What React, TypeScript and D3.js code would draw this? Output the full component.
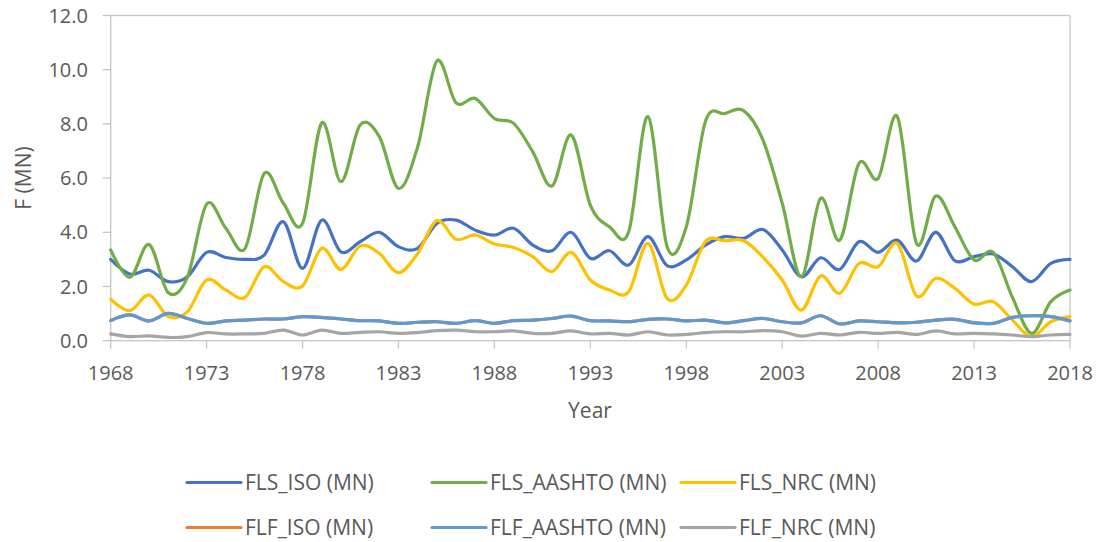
import React, { useEffect, useRef } from "react";
import * as d3 from "d3";

const years: number[] = Array.from({ length: 51 }, (_, i) => 1968 + i);

const flsIso: number[] = [
  3.0, 2.46, 2.6, 2.18, 2.36, 3.26, 3.07, 3.0, 3.16, 4.39, 2.67, 4.45, 3.28, 3.65, 4.0, 3.47, 3.41,
  4.33, 4.45, 4.08, 3.9, 4.15, 3.53, 3.32, 4.0, 3.04, 3.32, 2.79, 3.84, 2.77, 2.98, 3.53, 3.84, 3.78, 4.1,
  3.35, 2.36, 3.06, 2.63, 3.65, 3.26, 3.71, 2.94, 4.0, 2.95, 3.1, 3.2, 2.73, 2.18, 2.85, 3.0,
];
const flsAashto: number[] = [
  3.35, 2.34, 3.55, 1.77, 2.35, 5.04, 4.15, 3.4, 6.17, 5.07, 4.33, 8.04, 5.87, 7.96, 7.53, 5.62, 7.16,
  10.32, 8.78, 8.94, 8.2, 8.02, 6.97, 5.71, 7.59, 5.0, 4.2, 4.02, 8.27, 3.47, 4.2, 8.1, 8.38, 8.48, 7.4,
  5.07, 2.36, 5.25, 3.71, 6.54, 5.99, 8.27, 3.59, 5.34, 4.2, 2.98, 3.26, 1.6, 0.27, 1.44, 1.87,
];
const flsNrc: number[] = [
  1.53, 1.11, 1.69, 0.89, 1.07, 2.24, 1.87, 1.6, 2.73, 2.18, 2.02, 3.41, 2.63, 3.49, 3.22, 2.51, 3.22,
  4.43, 3.74, 3.9, 3.57, 3.44, 3.1, 2.55, 3.26, 2.24, 1.87, 1.81, 3.59, 1.56, 2.05, 3.66, 3.69, 3.69, 3.08,
  2.24, 1.13, 2.39, 1.75, 2.85, 2.73, 3.59, 1.65, 2.3, 1.93, 1.35, 1.44, 0.76, 0.15, 0.7, 0.89,
];
const flfIso: number[] = [
  0.74, 0.95, 0.73, 1.01, 0.82, 0.64, 0.73, 0.76, 0.8, 0.8, 0.89, 0.86, 0.8, 0.74, 0.73, 0.64, 0.68,
  0.7, 0.64, 0.74, 0.64, 0.74, 0.76, 0.82, 0.91, 0.74, 0.73, 0.7, 0.79, 0.8, 0.73, 0.76, 0.66, 0.74, 0.82,
  0.7, 0.66, 0.92, 0.62, 0.73, 0.7, 0.66, 0.68, 0.76, 0.79, 0.66, 0.64, 0.86, 0.92, 0.89, 0.73,
];
const flfAashto: number[] = [
  0.74, 0.95, 0.73, 1.01, 0.82, 0.64, 0.73, 0.76, 0.8, 0.8, 0.89, 0.86, 0.8, 0.74, 0.73, 0.64, 0.68,
  0.7, 0.64, 0.74, 0.64, 0.74, 0.76, 0.82, 0.91, 0.74, 0.73, 0.7, 0.79, 0.8, 0.73, 0.76, 0.66, 0.74, 0.82,
  0.7, 0.66, 0.92, 0.62, 0.73, 0.7, 0.66, 0.68, 0.76, 0.79, 0.66, 0.64, 0.86, 0.92, 0.89, 0.73,
];
const flfNrc: number[] = [
  0.25, 0.15, 0.18, 0.12, 0.15, 0.3, 0.25, 0.25, 0.27, 0.39, 0.21, 0.39, 0.27, 0.31, 0.33, 0.27, 0.3,
  0.37, 0.39, 0.33, 0.33, 0.36, 0.27, 0.27, 0.36, 0.25, 0.27, 0.21, 0.33, 0.21, 0.23, 0.3, 0.33, 0.33, 0.37,
  0.33, 0.17, 0.27, 0.21, 0.31, 0.27, 0.31, 0.23, 0.36, 0.25, 0.27, 0.25, 0.21, 0.15, 0.21, 0.23,
];

const seriesNames: string[] = [
  "FLS_ISO (MN)", "FLS_AASHTO (MN)", "FLS_NRC (MN)",
  "FLF_ISO (MN)", "FLF_AASHTO (MN)", "FLF_NRC (MN)",
];
const seriesColors: string[] = ["#4472C4", "#70AD47", "#FFC000", "#ED7D31", "#5B9BD5", "#A5A5A5"];
const seriesValues: number[][] = [flsIso, flsAashto, flsNrc, flfIso, flfAashto, flfNrc];

const xTicks: number[] = [1968, 1973, 1978, 1983, 1988, 1993, 1998, 2003, 2008, 2013, 2018];
const yTicks: number[] = [0, 2, 4, 6, 8, 10, 12];

const W = 1099;
const H = 542;
const FONT = "'Open Sans', 'Segoe UI', sans-serif";
const TXT = "#595959";
const AXIS = "#C6C6C6";

export default function App() {
  const ref = useRef<SVGSVGElement | null>(null);

  useEffect(() => {
    const svg = d3.select(ref.current);
    svg.selectAll("*").remove();

    const left = 110.7, right = 1070, top = 15.5, bottom = 340.7;
    const x = d3.scaleLinear().domain([1968, 2018]).range([left, right]);
    const y = d3.scaleLinear().domain([0, 12]).range([bottom, top]);

    svg.append("rect")
      .attr("x", left).attr("y", top)
      .attr("width", right - left).attr("height", bottom - top)
      .attr("fill", "none").attr("stroke", AXIS).attr("stroke-width", 1.3);

    const gy = svg.append("g");
    yTicks.forEach((t) => {
      gy.append("line")
        .attr("x1", left - 8).attr("x2", left)
        .attr("y1", y(t)).attr("y2", y(t))
        .attr("stroke", AXIS).attr("stroke-width", 1.3);
      gy.append("text")
        .attr("x", 88).attr("y", y(t))
        .attr("dy", "0.35em")
        .attr("text-anchor", "end")
        .attr("font-family", FONT).attr("font-size", 20)
        .attr("fill", TXT)
        .text(d3.format(".1f")(t));
    });

    const gx = svg.append("g");
    xTicks.forEach((t) => {
      gx.append("line")
        .attr("x1", x(t)).attr("x2", x(t))
        .attr("y1", bottom).attr("y2", bottom + 8)
        .attr("stroke", AXIS).attr("stroke-width", 1.3);
      gx.append("text")
        .attr("x", x(t)).attr("y", 380)
        .attr("text-anchor", "middle")
        .attr("font-family", FONT).attr("font-size", 20)
        .attr("fill", TXT)
        .text(String(t));
    });

    svg.append("text")
      .attr("transform", `translate(31,178) rotate(-90)`)
      .attr("text-anchor", "middle")
      .attr("font-family", FONT).attr("font-size", 21)
      .attr("fill", TXT)
      .text("F (MN)");
    svg.append("text")
      .attr("x", 590).attr("y", 418)
      .attr("text-anchor", "middle")
      .attr("font-family", FONT).attr("font-size", 21)
      .attr("fill", TXT)
      .text("Year");

    const line = d3.line<number>()
      .x((_, i) => x(years[i]))
      .y((d) => y(d))
      .curve(d3.curveCardinal.tension(0));

    seriesValues.forEach((vals, si) => {
      svg.append("path")
        .attr("d", line(vals) || "")
        .attr("fill", "none")
        .attr("stroke", seriesColors[si])
        .attr("stroke-width", 3.2)
        .attr("stroke-linejoin", "round")
        .attr("stroke-linecap", "round");
    });

    const legX = [187, 432, 681];
    const legY = [482.5, 527.5];
    seriesNames.forEach((name, i) => {
      const col = i % 3;
      const row = Math.floor(i / 3);
      const g = svg.append("g");
      g.append("line")
        .attr("x1", legX[col]).attr("x2", legX[col] + 54)
        .attr("y1", legY[row]).attr("y2", legY[row])
        .attr("stroke", seriesColors[i]).attr("stroke-width", 3.2)
        .attr("stroke-linecap", "round");
      g.append("text")
        .attr("x", legX[col] + 58).attr("y", legY[row])
        .attr("dy", "0.35em")
        .attr("font-family", FONT).attr("font-size", 21)
        .attr("fill", TXT)
        .text(name);
    });
  }, []);

  return (
    <div style={{ position: "absolute", left: 0, top: 0 }}>
      <svg ref={ref} width={W} height={H} style={{ display: "block", background: "#fff" }} />
    </div>
  );
}
